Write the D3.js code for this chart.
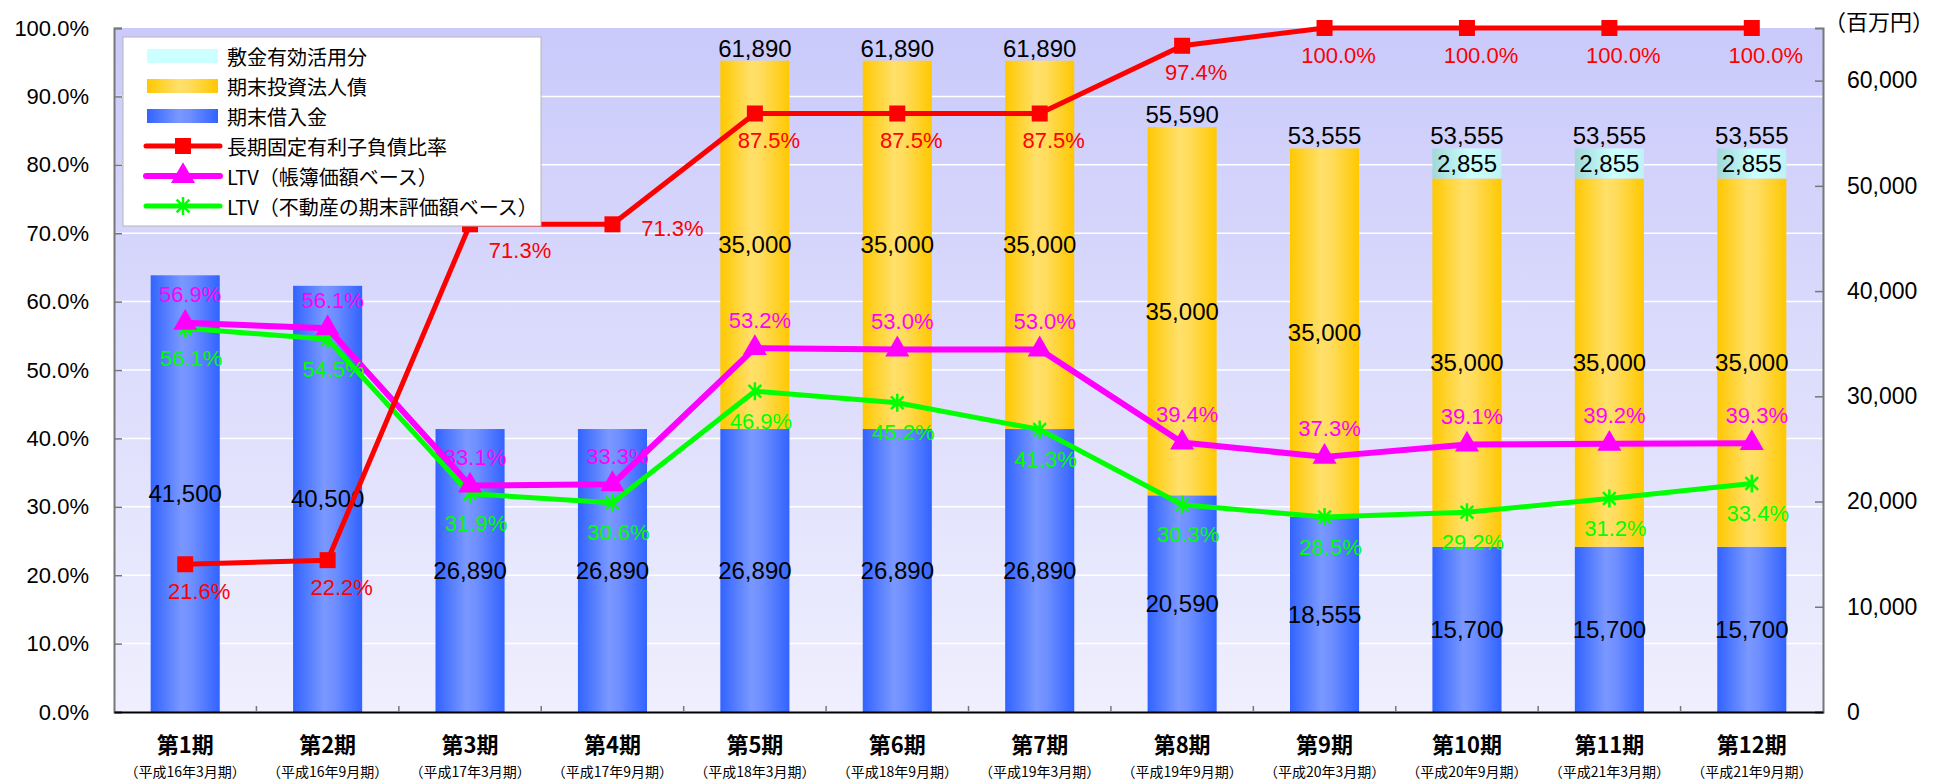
<!DOCTYPE html>
<html>
<head>
<meta charset="utf-8">
<script src="https://cdn.jsdelivr.net/npm/d3@7"></script>
<style>
  body { margin: 0; background: #fff; }
  svg text { font-family: "Liberation Sans", Arial, "Noto Sans CJK JP", sans-serif; }
  .jp { font-family: "Noto Sans CJK JP", sans-serif; }
</style>
</head>
<body>
<svg id="chart" width="1945" height="781"></svg>
<script>
(function () {
    'use strict';

    // --- data ---
    const periods = ['第1期', '第2期', '第3期', '第4期', '第5期', '第6期',
        '第7期', '第8期', '第9期', '第10期', '第11期', '第12期'];
    const periodDates = ['（平成16年3月期）', '（平成16年9月期）', '（平成17年3月期）',
        '（平成17年9月期）', '（平成18年3月期）', '（平成18年9月期）', '（平成19年3月期）',
        '（平成19年9月期）', '（平成20年3月期）', '（平成20年9月期）', '（平成21年3月期）',
        '（平成21年9月期）'];
    const loans = [41500, 40500, 26890, 26890, 26890, 26890, 26890, 20590, 18555, 15700, 15700, 15700];
    const bonds = [0, 0, 0, 0, 35000, 35000, 35000, 35000, 35000, 35000, 35000, 35000];
    const deposits = [0, 0, 0, 0, 0, 0, 0, 0, 0, 2855, 2855, 2855];
    const fixedRatio = [21.6, 22.2, 71.3, 71.3, 87.5, 87.5, 87.5, 97.4, 100, 100, 100, 100];
    const ltvBook = [56.9, 56.1, 33.1, 33.3, 53.2, 53.0, 53.0, 39.4, 37.3, 39.1, 39.2, 39.3];
    const ltvAppraisal = [56.1, 54.5, 31.9, 30.6, 46.9, 45.2, 41.3, 30.3, 28.5, 29.2, 31.2, 33.4];
    const pctTicks = [0, 10, 20, 30, 40, 50, 60, 70, 80, 90, 100];
    const yenTicks = [0, 10000, 20000, 30000, 40000, 50000, 60000];

    const legendNames = ['敷金有効活用分', '期末投資法人債', '期末借入金',
        '長期固定有利子負債比率', 'LTV（帳簿価額ベース）', 'LTV（不動産の期末評価額ベース）'];

    // --- layout ---
    const left = 114, right = 1823, top = 28, bottom = 712;

    const svg = d3.select('#chart');
    const defs = svg.append('defs');

    function hGrad(id, stops) {
        let g = defs.append('linearGradient').attr('id', id)
            .attr('x1', '0%').attr('x2', '100%').attr('y1', '0%').attr('y2', '0%');
        stops.forEach(function (s) {
            g.append('stop').attr('offset', s[0]).attr('stop-color', s[1]);
        });
    }
    hGrad('gBlue', [['0%', '#3163ff'], ['45%', '#7a98ff'], ['60%', '#6f8fff'], ['100%', '#3163ff']]);
    hGrad('gYellow', [['0%', '#ffc800'], ['45%', '#ffe06a'], ['60%', '#ffdc5c'], ['100%', '#ffc800']]);
    hGrad('gCyan', [['0%', '#a0d8d8'], ['55%', '#ccffff'], ['100%', '#bff2f2']]);
    let bg = defs.append('linearGradient').attr('id', 'gBg')
        .attr('x1', '0%').attr('x2', '0%').attr('y1', '0%').attr('y2', '100%');
    bg.append('stop').attr('offset', '0%').attr('stop-color', '#cacafb');
    bg.append('stop').attr('offset', '100%').attr('stop-color', '#efeffe');

    const x = d3.scaleBand()
        .domain(periods)
        .range([left, right])
        .paddingInner(0.515)
        .paddingOuter(0.2575);
    const yPct = d3.scaleLinear().domain([0, 100]).range([bottom, top]);
    const yYen = d3.scaleLinear().domain([0, 65000]).range([bottom, top]);

    // plot background + gridlines
    svg.append('rect')
        .attr('x', left).attr('y', top)
        .attr('width', right - left).attr('height', bottom - top)
        .attr('fill', 'url(#gBg)');
    svg.append('g').selectAll('line')
        .data(pctTicks.slice(1, -1))
        .enter().append('line')
        .attr('x1', left).attr('x2', right)
        .attr('y1', function (d) { return yPct(d); })
        .attr('y2', function (d) { return yPct(d); })
        .attr('stroke', '#ffffff')
        .attr('stroke-width', 1.5);

    // stacked bars
    const rows = periods.map(function (p, i) {
        return { period: p, loan: loans[i], bond: bonds[i], deposit: deposits[i] };
    });
    const keys = ['loan', 'bond', 'deposit'];
    const fills = { loan: 'url(#gBlue)', bond: 'url(#gYellow)', deposit: 'url(#gCyan)' };
    const stacked = d3.stack().keys(keys)(rows);

    let barG = svg.append('g');
    stacked.forEach(function (layer) {
        barG.append('g').selectAll('rect')
            .data(layer.filter(function (d) { return d[1] > d[0]; }))
            .enter().append('rect')
            .attr('x', function (d) { return x(d.data.period); })
            .attr('width', x.bandwidth())
            .attr('y', function (d) { return yYen(d[1]); })
            .attr('height', function (d) { return yYen(d[0]) - yYen(d[1]); })
            .attr('fill', fills[layer.key]);
    });

    // axes
    let leftAxis = d3.axisLeft(yPct)
        .tickValues(pctTicks)
        .tickSize(-8)
        .tickPadding(25)
        .tickFormat(function (d) { return d3.format('.1f')(d) + '%'; });
    let gl = svg.append('g').attr('transform', 'translate(' + left + ',0)').call(leftAxis);
    gl.select('.domain').attr('stroke', '#777').attr('stroke-width', 2);
    gl.selectAll('.tick line').attr('stroke', '#777').attr('stroke-width', 1.5);
    gl.selectAll('text').attr('font-size', 22).attr('fill', '#000');

    let rightAxis = d3.axisRight(yYen)
        .tickValues(yenTicks)
        .tickSize(-8)
        .tickPadding(24)
        .tickFormat(d3.format(','));
    let gr = svg.append('g').attr('transform', 'translate(' + right + ',0)').call(rightAxis);
    gr.select('.domain').attr('stroke', '#777').attr('stroke-width', 2);
    gr.selectAll('.tick line').attr('stroke', '#777').attr('stroke-width', 1.5);
    gr.selectAll('text').attr('font-size', 23).attr('fill', '#000');

    svg.append('text')
        .attr('class', 'jp')
        .attr('x', 1824).attr('y', 20)
        .attr('dominant-baseline', 'central')
        .attr('font-size', 22)
        .text('（百万円）');

    let bottomAxis = d3.axisBottom(x).tickSize(0).tickPadding(0);
    let gb = svg.append('g').attr('transform', 'translate(0,' + bottom + ')').call(bottomAxis);
    gb.select('.domain').attr('stroke', '#000').attr('stroke-width', 2);
    gb.selectAll('.tick text')
        .attr('class', 'jp')
        .attr('y', 41).attr('dy', null)
        .attr('font-size', 22)
        .attr('font-weight', 'bold')
        .attr('fill', '#000');
    gb.selectAll('.tick').append('text')
        .attr('class', 'jp')
        .attr('y', 65)
        .attr('text-anchor', 'middle')
        .attr('font-size', 14)
        .attr('fill', '#000')
        .text(function (d, i) { return periodDates[i]; });
    gb.append('g').selectAll('line')
        .data(periods.slice(1))
        .enter().append('line')
        .attr('x1', function (d) { return x(d) - x.step() * x.paddingInner() / 2; })
        .attr('x2', function (d) { return x(d) - x.step() * x.paddingInner() / 2; })
        .attr('y1', 0).attr('y2', -6)
        .attr('stroke', '#777').attr('stroke-width', 1.5);

    // bar value labels
    let valG = svg.append('g').attr('font-size', 24).attr('fill', '#000').attr('text-anchor', 'middle');
    stacked.forEach(function (layer) {
        valG.append('g').selectAll('text')
            .data(layer.filter(function (d) { return d[1] > d[0]; }))
            .enter().append('text')
            .attr('x', function (d) { return x(d.data.period) + x.bandwidth() / 2; })
            .attr('y', function (d) { return yYen((d[0] + d[1]) / 2); })
            .attr('dominant-baseline', 'central')
            .text(function (d) { return d3.format(',')(d[1] - d[0]); });
    });
    valG.append('g').selectAll('text')
        .data(rows.filter(function (d) { return d.bond + d.deposit > 0; }))
        .enter().append('text')
        .attr('x', function (d) { return x(d.period) + x.bandwidth() / 2; })
        .attr('y', function (d) { return yYen(d.loan + d.bond + d.deposit) - 4; })
        .text(function (d) { return d3.format(',')(d.loan + d.bond + d.deposit); });

    // lines
    function asterisk(r) {
        let a = r * Math.SQRT1_2;
        return 'M0,' + (-r) + 'L0,' + r +
            'M' + (-a) + ',' + (-a) + 'L' + a + ',' + a +
            'M' + (-a) + ',' + a + 'L' + a + ',' + (-a);
    }
    const series = [
        { name: 'appraisal', values: ltvAppraisal, color: '#00ff00', width: 5, marker: 'asterisk', dx: 6, dy: 30 },
        { name: 'book', values: ltvBook, color: '#ff00ff', width: 6, marker: 'triangle', dx: 5, dy: -28 },
        { name: 'fixed', values: fixedRatio, color: '#ff0000', width: 5, marker: 'square', dx: 14, dy: 27 }
    ];
    // manual label nudges on the red series (period 3 and 4 sit to the right)
    const fixedLabelShift = { 2: [50, 26], 3: [60, 4] };

    function markerPath(type) {
        if (type === 'square') return d3.symbol(d3.symbolSquare, 256)();
        if (type === 'triangle') return d3.symbol(d3.symbolTriangle, 250)();
        return asterisk(9);
    }

    const cx = function (i) { return x(periods[i]) + x.bandwidth() / 2; };
    const line = d3.line()
        .x(function (d, i) { return cx(i); })
        .y(function (d) { return yPct(d); });

    series.forEach(function (s) {
        let g = svg.append('g');
        g.append('path')
            .datum(s.values)
            .attr('d', line)
            .attr('fill', 'none')
            .attr('stroke', s.color)
            .attr('stroke-width', s.width)
            .attr('stroke-linejoin', 'round');
        g.selectAll('.mk')
            .data(s.values)
            .enter().append('path')
            .attr('class', 'mk')
            .attr('transform', function (d, i) { return 'translate(' + cx(i) + ',' + yPct(d) + ')'; })
            .attr('d', markerPath(s.marker))
            .attr('fill', s.marker === 'asterisk' ? 'none' : s.color)
            .attr('stroke', s.color)
            .attr('stroke-width', s.marker === 'asterisk' ? 2.5 : 0);
    });

    let pctG = svg.append('g').attr('font-size', 22).attr('text-anchor', 'middle');
    series.forEach(function (s) {
        pctG.append('g').selectAll('text')
            .data(s.values)
            .enter().append('text')
            .attr('x', function (d, i) {
                let sh = s.name === 'fixed' && fixedLabelShift[i];
                return cx(i) + (sh ? sh[0] : s.dx);
            })
            .attr('y', function (d, i) {
                let sh = s.name === 'fixed' && fixedLabelShift[i];
                return yPct(d) + (sh ? sh[1] : s.dy);
            })
            .attr('dominant-baseline', 'central')
            .attr('fill', s.color)
            .text(function (d) { return d3.format('.1f')(d) + '%'; });
    });

    // legend
    let lg = svg.append('g');
    lg.append('rect')
        .attr('x', 123).attr('y', 37)
        .attr('width', 418).attr('height', 189)
        .attr('fill', '#fff')
        .attr('stroke', '#b5b5b5')
        .attr('stroke-width', 1);
    const legendSwatch = [
        { type: 'rect', fill: '#ccffff' },
        { type: 'rect', fill: 'url(#gYellow)' },
        { type: 'rect', fill: 'url(#gBlue)' },
        { type: 'line', s: series[2] },
        { type: 'line', s: series[1] },
        { type: 'line', s: series[0] }
    ];
    legendNames.forEach(function (name, i) {
        let yy = 56 + i * 30;
        let sw = legendSwatch[i];
        if (sw.type === 'rect') {
            lg.append('rect')
                .attr('x', 147).attr('y', yy - 7)
                .attr('width', 71).attr('height', 14)
                .attr('fill', sw.fill);
        } else {
            lg.append('line')
                .attr('x1', 146).attr('x2', 220)
                .attr('y1', yy).attr('y2', yy)
                .attr('stroke', sw.s.color)
                .attr('stroke-width', sw.s.width)
                .attr('stroke-linecap', 'round');
            lg.append('path')
                .attr('transform', 'translate(183,' + yy + ')')
                .attr('d', markerPath(sw.s.marker))
                .attr('fill', sw.s.marker === 'asterisk' ? 'none' : sw.s.color)
                .attr('stroke', sw.s.color)
                .attr('stroke-width', sw.s.marker === 'asterisk' ? 2.5 : 0);
        }
        lg.append('text')
            .attr('class', 'jp')
            .attr('x', 227).attr('y', yy)
            .attr('dominant-baseline', 'central')
            .attr('font-size', 20)
            .attr('fill', '#000')
            .text(name);
    });
})();
</script>
</body>
</html>
